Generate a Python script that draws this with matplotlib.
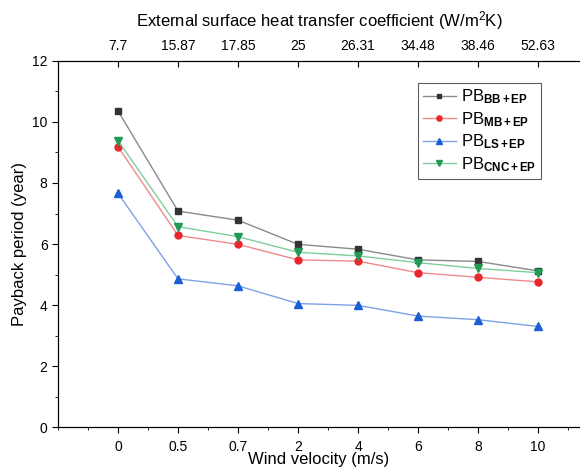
import matplotlib
matplotlib.use("Agg")
from matplotlib import pyplot as plt
from matplotlib.ticker import MultipleLocator

plt.rcParams["font.family"] = ["Liberation Sans", "DejaVu Sans"]
plt.rcParams["mathtext.fontset"] = "custom"
plt.rcParams["mathtext.rm"] = "Liberation Sans"
plt.rcParams["mathtext.it"] = "Liberation Sans"
plt.rcParams["mathtext.bf"] = "Liberation Sans:bold"

wind = ["0", "0.5", "0.7", "2", "4", "6", "8", "10"]
coef = ["7.7", "15.87", "17.85", "25", "26.31", "34.48", "38.46", "52.63"]

pb_bb = [10.36, 7.08, 6.78, 5.99, 5.83, 5.48, 5.43, 5.12]
pb_mb = [9.19, 6.28, 5.99, 5.48, 5.44, 5.06, 4.91, 4.76]
pb_ls = [7.66, 4.86, 4.63, 4.05, 3.99, 3.64, 3.52, 3.30]
pb_cnc = [9.39, 6.57, 6.24, 5.73, 5.61, 5.39, 5.20, 5.06]

pos = list(range(1, len(wind) + 1))

fig = plt.figure(figsize=(5.8, 4.72), dpi=100)
ax = fig.add_axes([0.1, 0.095, 0.9, 0.776])

series = [
    (pb_bb, r"PB$_{\mathbf{BB+EP}}$", "#333333", "#8a8a8a", "s", 4.6),
    (pb_mb, r"PB$_{\mathbf{MB+EP}}$", "#e8282c", "#f08a8a", "o", 5),
    (pb_ls, r"PB$_{\mathbf{LS+EP}}$", "#1c5fd4", "#7ea2e6", "^", 5.5),
    (pb_cnc, r"PB$_{\mathbf{CNC+EP}}$", "#229a55", "#7fcf9e", "v", 5.5),
]
for vals, lab, mc, lc, m, ms in series:
    ax.plot(pos, vals, color=lc, lw=1, marker=m, ms=ms,
            markerfacecolor=mc, markeredgecolor=mc, label=lab)

ax.set_xlim(0, 8.7)
ax.set_ylim(0, 12)
ax.set_xticks(pos)
ax.set_xticklabels(wind, fontsize=10)
ax.xaxis.set_minor_locator(MultipleLocator(0.5))
ax.yaxis.set_major_locator(MultipleLocator(2))
ax.yaxis.set_minor_locator(MultipleLocator(1))
ax.tick_params(axis="both", which="major", direction="out", length=4, labelsize=10)
ax.tick_params(axis="both", which="minor", direction="out", length=2.5)
ax.tick_params(axis="x", pad=5)
ax.spines["right"].set_visible(False)
ax.set_xlabel("Wind velocity (m/s)", fontsize=12, labelpad=-1)
ax.set_ylabel("Payback period (year)", fontsize=12, labelpad=4)

top = ax.twiny()
top.set_xlim(ax.get_xlim())
top.set_xticks(pos)
top.set_xticklabels(coef, fontsize=10)
top.tick_params(axis="x", direction="in", length=4, pad=6)
top.spines["right"].set_visible(False)
top.set_xlabel("External surface heat transfer coefficient (W/m$^{2}$K)",
               fontsize=12, labelpad=9)

leg = ax.legend(loc="upper right", bbox_to_anchor=(0.942, 0.963), fontsize=12,
                frameon=True, fancybox=False, edgecolor="#333333",
                handlelength=2.0, handletextpad=0.3, labelspacing=0.22,
                borderpad=0.3, markerscale=0.75)
leg.get_frame().set_linewidth(0.8)

fig.savefig("out.png", dpi=100)
